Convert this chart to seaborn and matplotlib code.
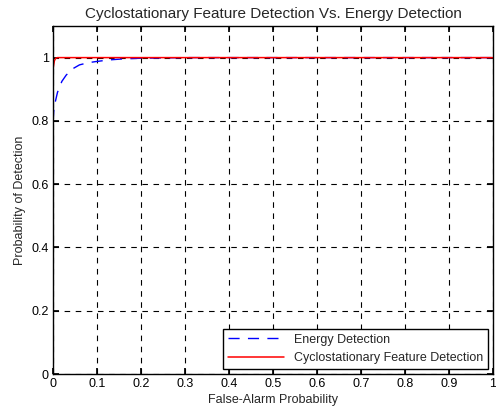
import matplotlib
matplotlib.use("Agg")
import matplotlib.pyplot as plt
import pandas as pd
import seaborn as sns

# ROC points
energy_pfa = [0.0, 0.002, 0.005, 0.01, 0.02, 0.03, 0.045, 0.06, 0.08, 0.1, 0.13, 0.16, 0.2, 0.3, 0.5, 0.7, 1.0]
energy_pd = [0.8, 0.84, 0.86, 0.89, 0.925, 0.945, 0.965, 0.977, 0.984, 0.988, 0.993, 0.996, 0.998, 1.0, 1.0, 1.0, 1.0]
cyclo_pfa = [0.0, 0.003, 0.006, 0.01, 0.05, 0.2, 0.5, 1.0]
cyclo_pd = [0.965, 0.99, 0.998, 1.0, 1.0, 1.0, 1.0, 1.0]

sns.set_theme(style="white")
plt.rcParams["font.family"] = ["Liberation Sans", "DejaVu Sans"]

energy = pd.DataFrame({"pfa": energy_pfa, "pd": energy_pd})
cyclo = pd.DataFrame({"pfa": cyclo_pfa, "pd": cyclo_pd})

fig = plt.figure(figsize=(4.96, 4.12), dpi=100)
ax = fig.add_axes([0.107, 0.092, 0.887, 0.845])

sns.lineplot(data=energy, x="pfa", y="pd", ax=ax, color="#0000ff", linewidth=1,
             label="Energy Detection")
ax.lines[-1].set_dashes([8, 6])
sns.lineplot(data=cyclo, x="pfa", y="pd", ax=ax, color="#ff0000", linewidth=1.1,
             label="Cyclostationary Feature Detection")

ax.set_xlim(0, 1)
ax.set_ylim(0, 1.1)
ax.set_xticks([i / 10 for i in range(11)])
ax.set_xticklabels(["0", "0.1", "0.2", "0.3", "0.4", "0.5", "0.6", "0.7", "0.8", "0.9", "1"])
ax.set_yticks([0, 0.2, 0.4, 0.6, 0.8, 1.0])
ax.set_yticklabels(["0", "0.2", "0.4", "0.6", "0.8", "1"])
ax.grid(True, color="black", linestyle=(0, (5, 5)), linewidth=0.8)
ax.tick_params(direction="in", length=4, labelsize=9, colors="black",
               top=True, right=True, bottom=True, left=True, pad=3)
for s in ax.spines.values():
    s.set_color("black")
    s.set_linewidth(1)

ax.set_title("Cyclostationary Feature Detection Vs. Energy Detection", fontsize=11, pad=6)
ax.set_xlabel("False-Alarm Probability", fontsize=9, labelpad=3)
ax.set_ylabel("Probability of Detection", fontsize=9, labelpad=4)

leg = ax.legend(loc="lower right", fontsize=9, frameon=True, fancybox=False,
                borderaxespad=0.4, handlelength=4.5, borderpad=0.4, labelspacing=0.5)
leg.get_frame().set_edgecolor("black")
leg.get_frame().set_linewidth(1)
leg.get_frame().set_alpha(1)

fig.savefig("out.png", dpi=100, facecolor="white")
